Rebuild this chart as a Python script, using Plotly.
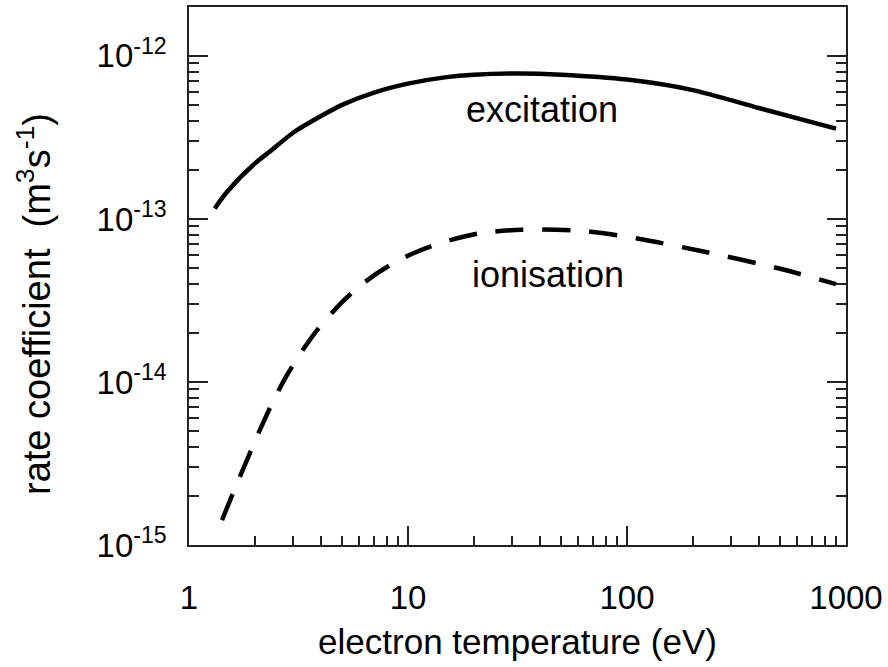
import plotly.graph_objects as go

# Excitation rate coefficient (solid)
exc_T = [1.31, 1.5, 2, 2.34, 3, 4, 5, 7, 10, 15, 20, 32, 50, 100, 200, 400, 900]
exc_k = [1.16e-13, 1.48e-13, 2.19e-13, 2.59e-13, 3.39e-13, 4.27e-13, 5.01e-13,
         5.96e-13, 6.76e-13, 7.41e-13, 7.67e-13, 7.80e-13, 7.67e-13, 7.16e-13,
         6.17e-13, 4.79e-13, 3.58e-13]

# Ionisation rate coefficient (dashed)
ion_T = [1.415, 1.59, 1.92, 2.13, 2.42, 2.80, 3.32, 3.88, 5.05, 6.30, 8.28, 10.4,
         14.0, 21.3, 33.2, 63, 106, 215, 500, 900]
ion_k = [1.42e-15, 2.09e-15, 3.80e-15, 5.25e-15, 7.59e-15, 1.10e-14, 1.58e-14,
         2.11e-14, 3.13e-14, 4.07e-14, 5.21e-14, 6.10e-14, 7.11e-14, 8.17e-14,
         8.59e-14, 8.43e-14, 7.67e-14, 6.38e-14, 4.95e-14, 3.98e-14]

x_ticks = [1, 10, 100, 1000]
x_ticktext = ["1", "10", "100", "1000"]
y_ticks = [1e-15, 1e-14, 1e-13, 1e-12]
y_ticktext = ["10<sup>-15</sup>", "10<sup>-14</sup>", "10<sup>-13</sup>", "10<sup>-12</sup>"]

x_minor = [m * 10 ** d for d in range(0, 3) for m in range(2, 10)]
y_minor = [m * 10.0 ** d for d in range(-15, -12) for m in range(2, 10)]

FONT = "Liberation Sans, Arial, sans-serif"

fig = go.Figure()
fig.add_trace(go.Scatter(x=exc_T, y=exc_k, mode="lines",
                         line=dict(color="black", width=4.5, shape="spline", smoothing=0.8),
                         showlegend=False))
fig.add_trace(go.Scatter(x=ion_T, y=ion_k, mode="lines",
                         line=dict(color="black", width=4.5, dash="28px,19px",
                                   shape="spline", smoothing=0.8),
                         showlegend=False))

axis_common = dict(showgrid=False, zeroline=False, showline=True, linecolor="#222",
                   linewidth=1.5, ticks="inside", ticklen=19, tickwidth=1.5,
                   tickcolor="#222", tickfont=dict(family=FONT, size=33, color="black"))

fig.update_xaxes(type="log", range=[0, 3], mirror=True,
                 tickmode="array", tickvals=x_ticks, ticktext=x_ticktext,
                 ticklabelstandoff=23,
                 minor=dict(tickmode="array", tickvals=x_minor, ticks="inside",
                            ticklen=9, tickwidth=1.5, tickcolor="#222", showgrid=False),
                 title=dict(text="electron temperature (eV)",
                            font=dict(family=FONT, size=35, color="black"), standoff=14),
                 **axis_common)
fig.update_yaxes(type="log", range=[-15, -11.70], mirror="ticks",
                 tickmode="array", tickvals=y_ticks, ticktext=y_ticktext,
                 ticklabelstandoff=14,
                 minor=dict(tickmode="array", tickvals=y_minor, ticks="inside",
                            ticklen=10, tickwidth=1.5, tickcolor="#222", showgrid=False),
                 **axis_common)

fig.add_annotation(x=1.612, y=-12.33, xref="x", yref="y", text="excitation",
                   showarrow=False, font=dict(family=FONT, size=36, color="black"))
fig.add_annotation(x=1.639, y=-13.338, xref="x", yref="y", text="ionisation",
                   showarrow=False, font=dict(family=FONT, size=36, color="black"))
fig.add_annotation(x=0, y=0.5, xref="paper", yref="paper", xshift=-155, yshift=-28,
                   text="rate coefficient&nbsp;&nbsp;(m<sup>3</sup>s<sup>-1</sup>)",
                   textangle=-90, showarrow=False, xanchor="center", yanchor="middle",
                   font=dict(family=FONT, size=38, color="black"))

fig.update_layout(width=888, height=667, margin=dict(l=189, r=42, t=5, b=122),
                  plot_bgcolor="white", paper_bgcolor="white")

fig.write_html("out.html")
